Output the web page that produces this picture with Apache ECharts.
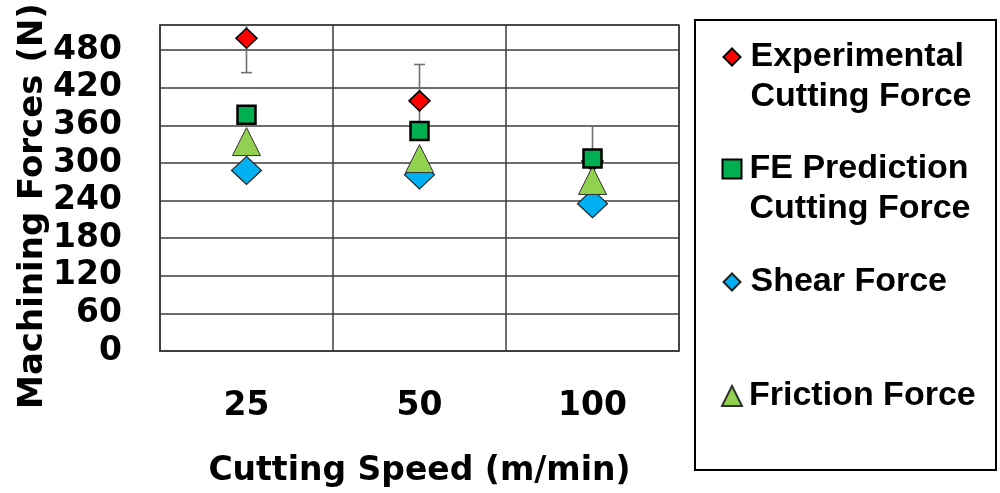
<!DOCTYPE html>
<html>
<head>
<meta charset="utf-8">
<script src="https://cdn.jsdelivr.net/npm/echarts@6/dist/echarts.min.js"></script>
<style>
  html, body { margin: 0; padding: 0; background: #fff; }
  #chart { width: 1000px; height: 493px; }
</style>
</head>
<body>
<div id="chart"></div>
<script>
// cutting speeds (m/min)
const speeds = ['25', '50', '100']
// forces in N
const experimental = [499, 399, 303]
const experimentalErr = [55, 58, 56]
const fePrediction = [377, 351, 307]
const shearForce = [288, 281, 235]
const frictionForce = [334, 307, 272]
const yTicks = [0, 60, 120, 180, 240, 300, 360, 420, 480]

const axisFont = 'DejaVu Sans'
const legendFont = 'Liberation Sans'
const gridColor = '#3c3c3c'

const chart = echarts.init(document.getElementById('chart'))

const errData = experimental.map((v, i) => [i, v, experimentalErr[i]])

// one legend per entry so the icon sits on the first text line
// (two-line names get an empty leading line so the icon centres on line one)
const legendItem = (name, top, size, twoLines) => ({
  data: [name],
  orient: 'vertical',
  left: 731 - size / 2,
  top: top,
  padding: 0,
  itemWidth: size,
  itemHeight: size,
  selectedMode: false,
  formatter: (n) => (twoLines ? '\n' + n : n),
  textStyle: {
    fontFamily: legendFont,
    fontWeight: 'bold',
    fontSize: 34,
    lineHeight: 40,
    color: '#000',
    padding: [0, 0, 0, 22 - size]
  }
})

const option = {
  animation: false,
  grid: {
    left: 160,
    right: 321,
    top: 25,
    bottom: 142,
    show: true,
    borderColor: gridColor,
    borderWidth: 1.5
  },
  legend: [
    legendItem('Experimental\nCutting Force', 57 - 60, 17, true),
    legendItem('FE Prediction\nCutting Force', 169 - 60, 19, true),
    legendItem('Shear Force', 282 - 20, 17, false),
    legendItem('Friction Force', 396 - 20, 20, false)
  ],
  graphic: [{
    type: 'rect',
    shape: { x: 695, y: 20, width: 301, height: 450 },
    style: { fill: 'none', stroke: '#000', lineWidth: 2 }
  }],
  xAxis: {
    type: 'category',
    data: speeds,
    boundaryGap: true,
    name: 'Cutting Speed (m/min)',
    nameLocation: 'middle',
    nameGap: 104,
    nameMoveOverlap: false,
    nameTextStyle: { fontFamily: axisFont, fontWeight: 'bold', fontSize: 33, color: '#000' },
    axisLine: { show: true, lineStyle: { color: gridColor, width: 1.5 } },
    axisTick: { show: false },
    axisLabel: {
      margin: 39,
      fontFamily: axisFont,
      fontWeight: 'bold',
      fontSize: 33,
      color: '#000'
    },
    splitLine: { show: true, lineStyle: { color: gridColor, width: 1.5 } }
  },
  yAxis: {
    type: 'value',
    min: 0,
    max: 520,
    interval: 60,
    name: 'Machining Forces (N)',
    nameLocation: 'middle',
    nameRotate: 90,
    nameGap: 110,
    nameMoveOverlap: false,
    nameTextStyle: {
      fontFamily: axisFont, fontWeight: 'bold', fontSize: 34, color: '#000',
      padding: [0, 36, 0, 0]
    },
    axisLine: { show: true, lineStyle: { color: gridColor, width: 1.5 } },
    axisTick: { show: false },
    axisLabel: {
      margin: 38,
      fontFamily: axisFont,
      fontWeight: 'bold',
      fontSize: 33,
      color: '#000',
      formatter: (v) => (yTicks.indexOf(v) >= 0 ? String(v) : '')
    },
    splitLine: { show: true, lineStyle: { color: gridColor, width: 1.5 } }
  },
  series: [
    {
      name: 'errorbars',
      type: 'custom',
      clip: true,
      data: errData,
      encode: { x: 0, y: 1 },
      renderItem: (params, api) => {
        const x = api.value(0)
        const v = api.value(1)
        const e = api.value(2)
        const hi = api.coord([x, v + e])
        const lo = api.coord([x, v - e])
        const style = { stroke: '#707070', lineWidth: 1.6 }
        return {
          type: 'group',
          children: [
            { type: 'line', shape: { x1: hi[0], y1: hi[1], x2: lo[0], y2: lo[1] }, style },
            { type: 'line', shape: { x1: hi[0] - 5.5, y1: hi[1], x2: hi[0] + 5.5, y2: hi[1] }, style },
            { type: 'line', shape: { x1: lo[0] - 5.5, y1: lo[1], x2: lo[0] + 5.5, y2: lo[1] }, style }
          ]
        }
      }
    },
    {
      name: 'Experimental\nCutting Force',
      type: 'scatter',
      data: experimental,
      symbol: 'diamond',
      symbolSize: [21, 20],
      itemStyle: { color: '#ff0000', borderColor: '#000', borderWidth: 1.5, opacity: 1 }
    },
    {
      name: 'Shear Force',
      type: 'scatter',
      data: shearForce,
      symbol: 'diamond',
      symbolSize: [30, 28],
      itemStyle: { color: '#00b0f0', borderColor: '#222', borderWidth: 1.2, opacity: 1 }
    },
    {
      name: 'Friction Force',
      type: 'scatter',
      data: frictionForce,
      symbol: 'triangle',
      symbolSize: [28, 28],
      itemStyle: { color: '#92d050', borderColor: '#333', borderWidth: 1, opacity: 1 }
    },
    {
      name: 'FE Prediction\nCutting Force',
      type: 'scatter',
      data: fePrediction,
      symbol: 'rect',
      symbolSize: 18,
      itemStyle: { color: '#00b050', borderColor: '#000', borderWidth: 2.5, opacity: 1 }
    }
  ]
}

chart.setOption(option)
</script>
</body>
</html>
